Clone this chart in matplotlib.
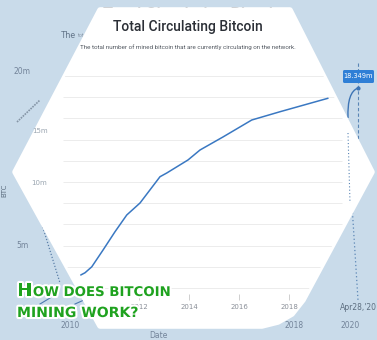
import matplotlib
matplotlib.use('Agg')
import matplotlib.pyplot as plt
import matplotlib.patheffects as pe
from matplotlib.patches import Polygon, FancyBboxPatch
from matplotlib.path import Path
from matplotlib.patches import PathPatch

# Front chart: circulating supply (million BTC)
years = [2009.67, 2009.84, 2010.11, 2010.56, 2011.04, 2011.51, 2012.04, 2012.84,
         2013.11, 2013.96, 2014.44, 2015.36, 2016.51, 2017.64, 2019.56]
supply = [1.23, 1.44, 2.0, 3.58, 5.31, 6.89, 8.02, 10.5,
          10.85, 12.08, 13.02, 14.25, 15.85, 16.63, 17.9]
grid_vals = list(range(0, 21, 2))
tick_years = [2012, 2014, 2016, 2018]

title = 'Total Circulating Bitcoin'
subtitle = 'The total number of mined bitcoin that are currently circulating on the network.'

# Blurred chart in the background
bg_ylabels = ['20m', '15m', '10m', '5m']
bg_xlabels = ['2010', '2012', '2018', '2020']
last_date = "Apr28,'20"
last_value = '18.349m'

W, H = 377, 340
BG = '#c9dbea'
NARROW = ['Roboto', 'DejaVu Sans']

fig = plt.figure(figsize=(W / 100, H / 100), dpi=100)
fig.patch.set_facecolor(BG)

# background layer in pixel coords
bg = fig.add_axes([0, 0, 1, 1])
bg.set_xlim(0, W)
bg.set_ylim(H, 0)
bg.axis('off')

faint = '#73849a'
bg.text(103, 19, title, fontsize=12, family=NARROW, fontweight='medium',
        color='#2a3440', zorder=1)
bg.text(61, 38, 'The', fontsize=6.5, family=NARROW, color='#66788c', zorder=1)
bg.text(77, 37, 'total', fontsize=4, family=NARROW, color='#8a99aa', zorder=1)
bg.text(22, 72, bg_ylabels[0], fontsize=5.5, ha='center', va='center', color=faint, zorder=1)
bg.text(48, 131, bg_ylabels[1], fontsize=5, ha='right', va='center', color='#9aa5b0', zorder=3)
bg.text(47, 183, bg_ylabels[2], fontsize=5, ha='right', va='center', color='#9aa5b0', zorder=3)
bg.text(22, 246, bg_ylabels[3], fontsize=5.5, ha='center', va='center', color=faint, zorder=1)
bg.text(4, 190, 'BTC', fontsize=5, rotation=90, ha='center', va='center', color='#5d6e80', zorder=1)
for lab, x in zip(bg_xlabels, [70, 124, 294, 350]):
    bg.text(x, 326, lab, fontsize=5.5, ha='center', va='center', color=faint, zorder=1)
bg.text(358, 308, last_date, fontsize=5.5, ha='center', va='center', color='#5d6e80', zorder=1)
bg.text(158, 336, 'Date', fontsize=5.5, ha='center', va='center', color=faint, zorder=1)

# background guides / line pieces
bg.plot([358, 358], [63, 172], color='#5b86b5', lw=0.8, ls=(0, (3, 2)), zorder=1)
bg.plot([352, 358], [205, 300], color='#5b86b5', lw=0.9, ls=(0, (1, 2)), zorder=1)
bg.plot([40, 60], [218, 283], color='#5b7fa8', lw=0.9, ls=(0, (1, 1.5)), zorder=1)
bg.plot([17, 40], [122, 100], color='#8595a6', lw=1.2, ls=(0, (1, 0.6)), zorder=1)
bg.plot([40, 50], [304, 298], color='#4a78b0', lw=0.8, zorder=1)
bg.plot([75, 84], [304, 300], color='#4a78b0', lw=0.8, zorder=1)
curve = Path([(348, 118), (347, 92), (358, 88)], [Path.MOVETO, Path.CURVE3, Path.CURVE3])
bg.add_patch(PathPatch(curve, fill=False, ec='#3d74b5', lw=1.0, zorder=1))
bg.plot([358], [88], 'o', color='#3d74b5', ms=2, zorder=1)
box = FancyBboxPatch((343, 70), 31, 13, boxstyle='round,pad=0,rounding_size=1.5',
                     fc='#2f7fd6', ec='none', zorder=1)
bg.add_patch(box)
bg.text(358.5, 76.5, last_value, fontsize=4.8, ha='center', va='center', color='white', zorder=1)

# white hexagon card (rounded lower-right corner)
hexagon = Polygon([(100, 10), (290, 10), (372, 172), (303, 300), (292, 314),
                   (278, 322), (262, 326), (100, 326), (15, 172)],
                  closed=True, fc='white', ec='white', lw=4, joinstyle='round', zorder=2)
bg.add_patch(hexagon)

bg.text(187.5, 31, title, fontsize=10, family=NARROW, fontweight='medium',
        color='#2b2f36', ha='center', va='baseline', zorder=3)
sub = bg.text(296, 49, subtitle, fontsize=4.5, family=NARROW, color='#555b63',
              ha='right', va='baseline', zorder=3)
sub.set_clip_path(hexagon)

bg.plot([348, 350], [133, 203], color='#5b86b5', lw=0.8, ls=(0, (1, 2)), zorder=3)

# front chart axes
x0, x1 = 2012 + (40 - 139) / 25, 2012 + (345 - 139) / 25
ax = fig.add_axes([40 / W, 1 - 294.4 / H, 305 / W, 218.4 / H])
ax.patch.set_alpha(0)
ax.set_xlim(x0, x1)
ax.set_ylim(-0.6, 20)
for s in ax.spines.values():
    s.set_visible(False)
ax.set_yticks([])
ax.set_xticks(tick_years)
ax.set_xticklabels([str(y) for y in tick_years])
ax.tick_params(axis='x', length=4, width=0.6, color='#c8c8c8', labelsize=5,
               labelcolor='#8a8f98', pad=3)

gl = ax.hlines(grid_vals, 2012 + (63 - 139) / 25, 2012 + (342 - 139) / 25,
               color='#ececec', lw=0.7)
gl.set_clip_path(hexagon)
ln, = ax.plot(years, supply, color='#3a78c2', lw=1.1, solid_capstyle='round')
ln.set_clip_path(hexagon)
for t in ax.get_xticklabels() + ax.xaxis.get_ticklines():
    t.set_clip_path(hexagon)

# overlay caption
top = fig.add_axes([0, 0, 1, 1])
top.set_xlim(0, W)
top.set_ylim(H, 0)
top.axis('off')
top.patch.set_alpha(0)

green = '#1fa21f'
stroke = [pe.withStroke(linewidth=3, foreground='white')]
kw = dict(color=green, fontweight='bold', family='DejaVu Sans', va='baseline',
          path_effects=stroke)
h = top.text(17, 296, 'H', fontsize=13.2, **kw)
fig.canvas.draw()
bb = h.get_window_extent().transformed(top.transData.inverted())
top.text(bb.x1 + 0.5, 296, 'OW DOES BITCOIN', fontsize=9.6, **kw)
top.text(17, 317, 'MINING WORK?', fontsize=10.1, **kw)

fig.savefig('out.png', dpi=100, facecolor=BG)
